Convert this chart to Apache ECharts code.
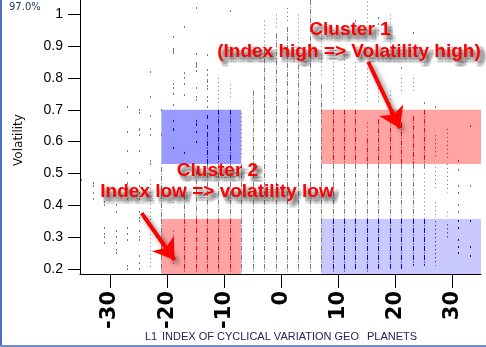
<!DOCTYPE html>
<html>
<head>
<meta charset="utf-8">
<script src="https://cdn.jsdelivr.net/npm/echarts@6/dist/echarts.min.js"></script>
<style>
  html, body { margin: 0; padding: 0; background: #ffffff; }
  #chart { width: 486px; height: 347px; }
</style>
</head>
<body>
<div id="chart"></div>
<script>
// Axis ranges and tick labels
const xRange = [-35.25, 35];
const yRange = [0.184, 1.045];
const xTicks = [-30, -20, -10, 0, 10, 20, 30];
const yTicks = [0.2, 0.3, 0.4, 0.5, 0.6, 0.7, 0.8, 0.9, 1];

// Cluster boxes: index spans and volatility bands
const leftSpan = [-21, -7];
const rightSpan = [7, 35];
const lowBand = [0.184, 0.357];
const highBand = [0.53, 0.70];

// Observations per index value: dense runs of points [index, from, to]
const denseRuns = [
  [-21, 0.19, 0.52], [-17, 0.19, 0.46], [-15, 0.19, 0.51], [-13, 0.19, 0.63],
  [-11, 0.19, 0.70], [-9, 0.19, 0.70], [-7, 0.19, 0.53], [-5, 0.19, 0.76],
  [-3, 0.19, 0.89], [-1, 0.19, 0.94], [1, 0.19, 0.96], [3, 0.19, 0.87],
  [5, 0.19, 1.045], [7, 0.19, 0.78], [9, 0.19, 0.70], [11, 0.19, 0.70],
  [13, 0.20, 0.70], [15, 0.19, 0.61], [17, 0.20, 0.67], [19, 0.20, 0.70],
  [21, 0.195, 0.66], [23, 0.21, 0.68], [25, 0.51, 0.70], [25, 0.21, 0.357]
];

// Sparse runs of points [index, from, to]
const sparseRuns = [
  [-23, 0.35, 0.48], [-23, 0.20, 0.31], [-19, 0.21, 0.32], [-19, 0.40, 0.46],
  [-11, 0.71, 0.80], [-9, 0.73, 0.78], [-7, 0.55, 0.69], [-3, 0.90, 0.98],
  [-1, 0.95, 1.00], [1, 0.97, 1.02], [3, 0.88, 1.00], [7, 0.80, 0.95],
  [9, 0.72, 0.85], [11, 0.72, 0.87], [13, 0.72, 0.85], [15, 0.94, 1.04],
  [15, 0.72, 0.83], [15, 0.61, 0.66], [17, 0.72, 0.78], [17, 0.85, 0.87],
  [17, 0.93, 0.95], [19, 0.85, 1.00], [19, 0.72, 0.76], [21, 0.75, 0.80],
  [23, 0.76, 0.80], [25, 0.36, 0.50], [27, 0.55, 0.62], [27, 0.45, 0.52],
  [27, 0.37, 0.41], [27, 0.21, 0.35], [29, 0.54, 0.64], [29, 0.44, 0.53],
  [29, 0.365, 0.38], [29, 0.29, 0.34]
];

// Isolated points [index, volatility]
const singleDots = [
  [-35, 0.48],
  [-33, 0.47], [-33, 0.46], [-33, 0.44], [-33, 0.42],
  [-31, 0.41], [-31, 0.40], [-31, 0.33], [-31, 0.31], [-31, 0.30], [-31, 0.28],
  [-29, 0.40], [-29, 0.38], [-29, 0.32], [-29, 0.30], [-29, 0.28], [-29, 0.26], [-29, 0.25],
  [-27, 0.71], [-27, 0.63], [-27, 0.57], [-27, 0.50], [-27, 0.47], [-27, 0.45], [-27, 0.42],
  [-27, 0.33], [-27, 0.31], [-27, 0.29], [-27, 0.21], [-27, 0.20],
  [-25, 0.70], [-25, 0.69], [-25, 0.64], [-25, 0.635], [-25, 0.62], [-25, 0.57], [-25, 0.50],
  [-25, 0.46], [-25, 0.44], [-25, 0.42], [-25, 0.38], [-25, 0.36], [-25, 0.35], [-25, 0.32],
  [-25, 0.30], [-25, 0.29], [-25, 0.24], [-25, 0.22], [-25, 0.20],
  [-23, 0.82], [-23, 0.74], [-23, 0.68], [-23, 0.64], [-23, 0.62], [-23, 0.54], [-23, 0.53],
  [-21, 0.70], [-21, 0.62],
  [-19, 0.93], [-19, 0.89], [-19, 0.885], [-19, 0.88], [-19, 0.78], [-19, 0.77], [-19, 0.75],
  [-19, 0.715], [-19, 0.665], [-19, 0.64], [-19, 0.637], [-19, 0.58],
  [-17, 0.96], [-17, 0.815], [-17, 0.80], [-17, 0.78], [-17, 0.745], [-17, 0.565],
  [-15, 1.02], [-15, 0.875], [-15, 0.847], [-15, 0.842], [-15, 0.836], [-15, 0.823],
  [-15, 0.768], [-15, 0.74], [-15, 0.73], [-15, 0.664], [-15, 0.655], [-15, 0.652],
  [-15, 0.63], [-15, 0.60],
  [-13, 0.872], [-13, 0.825], [-13, 0.809], [-13, 0.793], [-13, 0.788], [-13, 0.775],
  [-13, 0.765], [-13, 0.74], [-13, 0.727], [-13, 0.708], [-13, 0.68], [-13, 0.674],
  [-13, 0.649], [-13, 0.643],
  [-9, 1.01], [13, 0.98], [17, 0.99], [17, 0.97], [21, 0.83], [23, 0.94], [25, 0.72], [27, 0.71],
  [31, 0.54], [31, 0.51], [31, 0.46], [31, 0.44], [31, 0.40], [31, 0.38], [31, 0.35],
  [31, 0.33], [31, 0.29], [31, 0.27], [31, 0.25],
  [33, 0.65], [33, 0.46], [33, 0.35], [33, 0.27], [33, 0.24],
  [35, 0.36]
];

// Annotation arrows: [from, to] in index / volatility
const arrowCluster1 = [[15.24, 0.851], [20.79, 0.642]];
const arrowCluster2 = [[-24.45, 0.375], [-18.7, 0.228]];

// Annotation captions
const cluster1Lines = ['Cluster 1', '(Index high => Volatility high)'];
const cluster2Lines = ['Cluster 2', 'Index low => volatility low'];

const GRAY = '#7a7a7a';
const RED = '#ff0000';
const BLUE = '#0000ff';
const cuts = [lowBand[1], highBand[0], highBand[1]];

function zoneColor(x, y) {
  const inLeft = x > leftSpan[0] && x < leftSpan[1];
  const inRight = x > rightSpan[0] && x < rightSpan[1];
  if (!inLeft && !inRight) return GRAY;
  if (y < lowBand[1]) return inLeft ? RED : BLUE;
  if (y > highBand[0] && y < highBand[1]) return inLeft ? BLUE : RED;
  return GRAY;
}

function renderRun(params, api) {
  const x = api.value(0), lo = api.value(1), hi = api.value(2), sparse = api.value(3);
  const stops = [lo].concat(cuts.filter(c => c > lo && c < hi), [hi]);
  const px = Math.round(api.coord([x, lo])[0]) + 0.5;
  const children = [];
  for (let i = 0; i < stops.length - 1; i++) {
    const a = stops[i], b = stops[i + 1];
    children.push({
      type: 'line',
      shape: { x1: px, y1: api.coord([x, b])[1], x2: px, y2: api.coord([x, a])[1] },
      style: {
        stroke: zoneColor(x, (a + b) / 2),
        lineWidth: 1,
        lineDash: sparse ? [1, 3] : [5, 1.5, 1, 1.5]
      }
    });
  }
  return { type: 'group', children };
}

function renderDot(params, api) {
  const x = api.value(0), y = api.value(1);
  const p = api.coord([x, y]);
  return {
    type: 'rect',
    shape: { x: Math.round(p[0]), y: Math.round(p[1]) - 1, width: 1, height: 2 },
    style: { fill: zoneColor(x, y) }
  };
}

const runData = denseRuns.map(r => [r[0], r[1], r[2], 0])
  .concat(sparseRuns.map(r => [r[0], r[1], r[2], 1]));

const boxes = [
  [leftSpan, highBand, '#9999ff'],
  [leftSpan, lowBand, '#ffa3a3'],
  [rightSpan, highBand, '#ffa3a3'],
  [rightSpan, lowBand, '#c9c9ff']
];

// Red caption with a soft grey drop shadow, built from faint offset copies
const shadowSteps = [1, 2.5, 4, 5.5];
function caption(text, x, y) {
  const base = {
    text: text,
    x: x,
    y: y,
    font: 'bold 19px "Liberation Sans", Arial, sans-serif',
    align: 'center',
    verticalAlign: 'middle'
  };
  const parts = [];
  shadowSteps.forEach(dx => {
    shadowSteps.forEach(dy => {
      parts.push({
        type: 'text', z: 99, x: dx + 0.5, y: dy + 1,
        style: Object.assign({}, base, { fill: 'rgba(70,70,70,0.085)' })
      });
    });
  });
  parts.push({ type: 'text', z: 100, style: Object.assign({}, base, { fill: '#ff0000' }) });
  return parts;
}

const captionGraphics = []
  .concat(caption(cluster1Lines[0], 350, 30))
  .concat(caption(cluster1Lines[1], 349, 51.5))
  .concat(caption(cluster2Lines[0], 217.5, 170.7))
  .concat(caption(cluster2Lines[1], 217, 192));

const chart = echarts.init(document.getElementById('chart'), null, { renderer: 'canvas' });

chart.setOption({
  animation: false,
  backgroundColor: '#ffffff',
  grid: { left: 80, right: 5, top: 0, bottom: 73, outerBoundsMode: 'none' },
  xAxis: {
    type: 'value',
    min: xRange[0],
    max: xRange[1],
    splitLine: { show: false },
    axisLine: { onZero: false, lineStyle: { color: '#000', width: 1 } },
    axisTick: { customValues: xTicks, length: 14, lineStyle: { color: '#000' } },
    axisLabel: {
      customValues: xTicks,
      rotate: 90,
      margin: 17,
      color: '#000',
      fontFamily: '"DejaVu Sans", sans-serif',
      fontWeight: 'bold',
      fontSize: 21
    }
  },
  yAxis: {
    type: 'value',
    min: yRange[0],
    max: yRange[1],
    splitLine: { show: false },
    axisLine: { show: true, onZero: false, lineStyle: { color: '#000', width: 1 } },
    axisTick: { show: true, customValues: yTicks, length: 12, lineStyle: { color: '#000' } },
    axisLabel: {
      customValues: yTicks,
      margin: 17,
      color: '#000',
      fontFamily: '"Liberation Sans Narrow", "Arial Narrow", "Liberation Sans", sans-serif',
      fontSize: 14
    }
  },
  series: [
    {
      type: 'line',
      z: 1,
      data: [],
      silent: true,
      markArea: {
        silent: true,
        data: boxes.map(b => [
          { coord: [b[0][0], b[1][0]], itemStyle: { color: b[2], opacity: 1, borderWidth: 0 } },
          { coord: [b[0][1], b[1][1]] }
        ])
      }
    },
    {
      type: 'custom',
      z: 3,
      clip: true,
      silent: true,
      renderItem: renderRun,
      encode: { x: 0, y: [1, 2] },
      data: runData
    },
    {
      type: 'custom',
      z: 3,
      clip: true,
      silent: true,
      renderItem: renderDot,
      encode: { x: 0, y: 1 },
      data: singleDots
    },
    {
      type: 'line',
      z: 5,
      data: [],
      silent: true,
      markLine: {
        silent: true,
        symbol: ['none', 'arrow'],
        symbolSize: 20,
        label: { show: false },
        lineStyle: {
          color: '#ff0000',
          width: 4,
          type: 'solid',
          opacity: 1,
          shadowColor: 'rgba(0,0,0,0.5)',
          shadowBlur: 5,
          shadowOffsetX: 3,
          shadowOffsetY: 3
        },
        data: [
          [{ coord: arrowCluster1[0] }, { coord: arrowCluster1[1] }],
          [{ coord: arrowCluster2[0] }, { coord: arrowCluster2[1] }]
        ]
      }
    }
  ],
  graphic: [
    { type: 'rect', z: 100, shape: { x: 0, y: 0, width: 2, height: 347 }, style: { fill: '#4a72c4' } },
    { type: 'rect', z: 100, shape: { x: 0, y: 345, width: 486, height: 2 }, style: { fill: '#6d8fd0' } },
    {
      type: 'text', x: 9, y: 7, z: 100,
      style: { text: '97.0%', font: '10px "DejaVu Sans", sans-serif', fill: '#1f3354', verticalAlign: 'middle' }
    },
    {
      type: 'text', x: 19, y: 140, rotation: Math.PI / 2, z: 100,
      style: { text: 'Volatility', font: '12px "DejaVu Sans", sans-serif', fill: '#111', align: 'center', verticalAlign: 'middle' }
    },
    {
      type: 'text', x: 145, y: 337, z: 100,
      style: { text: 'L1', font: '11px "Liberation Sans", Arial, sans-serif', fill: '#2a2060', verticalAlign: 'middle' }
    },
    {
      type: 'text', x: 162, y: 337, z: 100,
      style: { text: 'INDEX OF CYCLICAL VARIATION GEO', font: '11px "Liberation Sans", Arial, sans-serif', fill: '#2a2060', verticalAlign: 'middle' }
    },
    {
      type: 'text', x: 367, y: 337, z: 100,
      style: { text: 'PLANETS', font: '11px "Liberation Sans", Arial, sans-serif', fill: '#2a2060', verticalAlign: 'middle' }
    }
  ].concat(captionGraphics)
});
</script>
</body>
</html>
